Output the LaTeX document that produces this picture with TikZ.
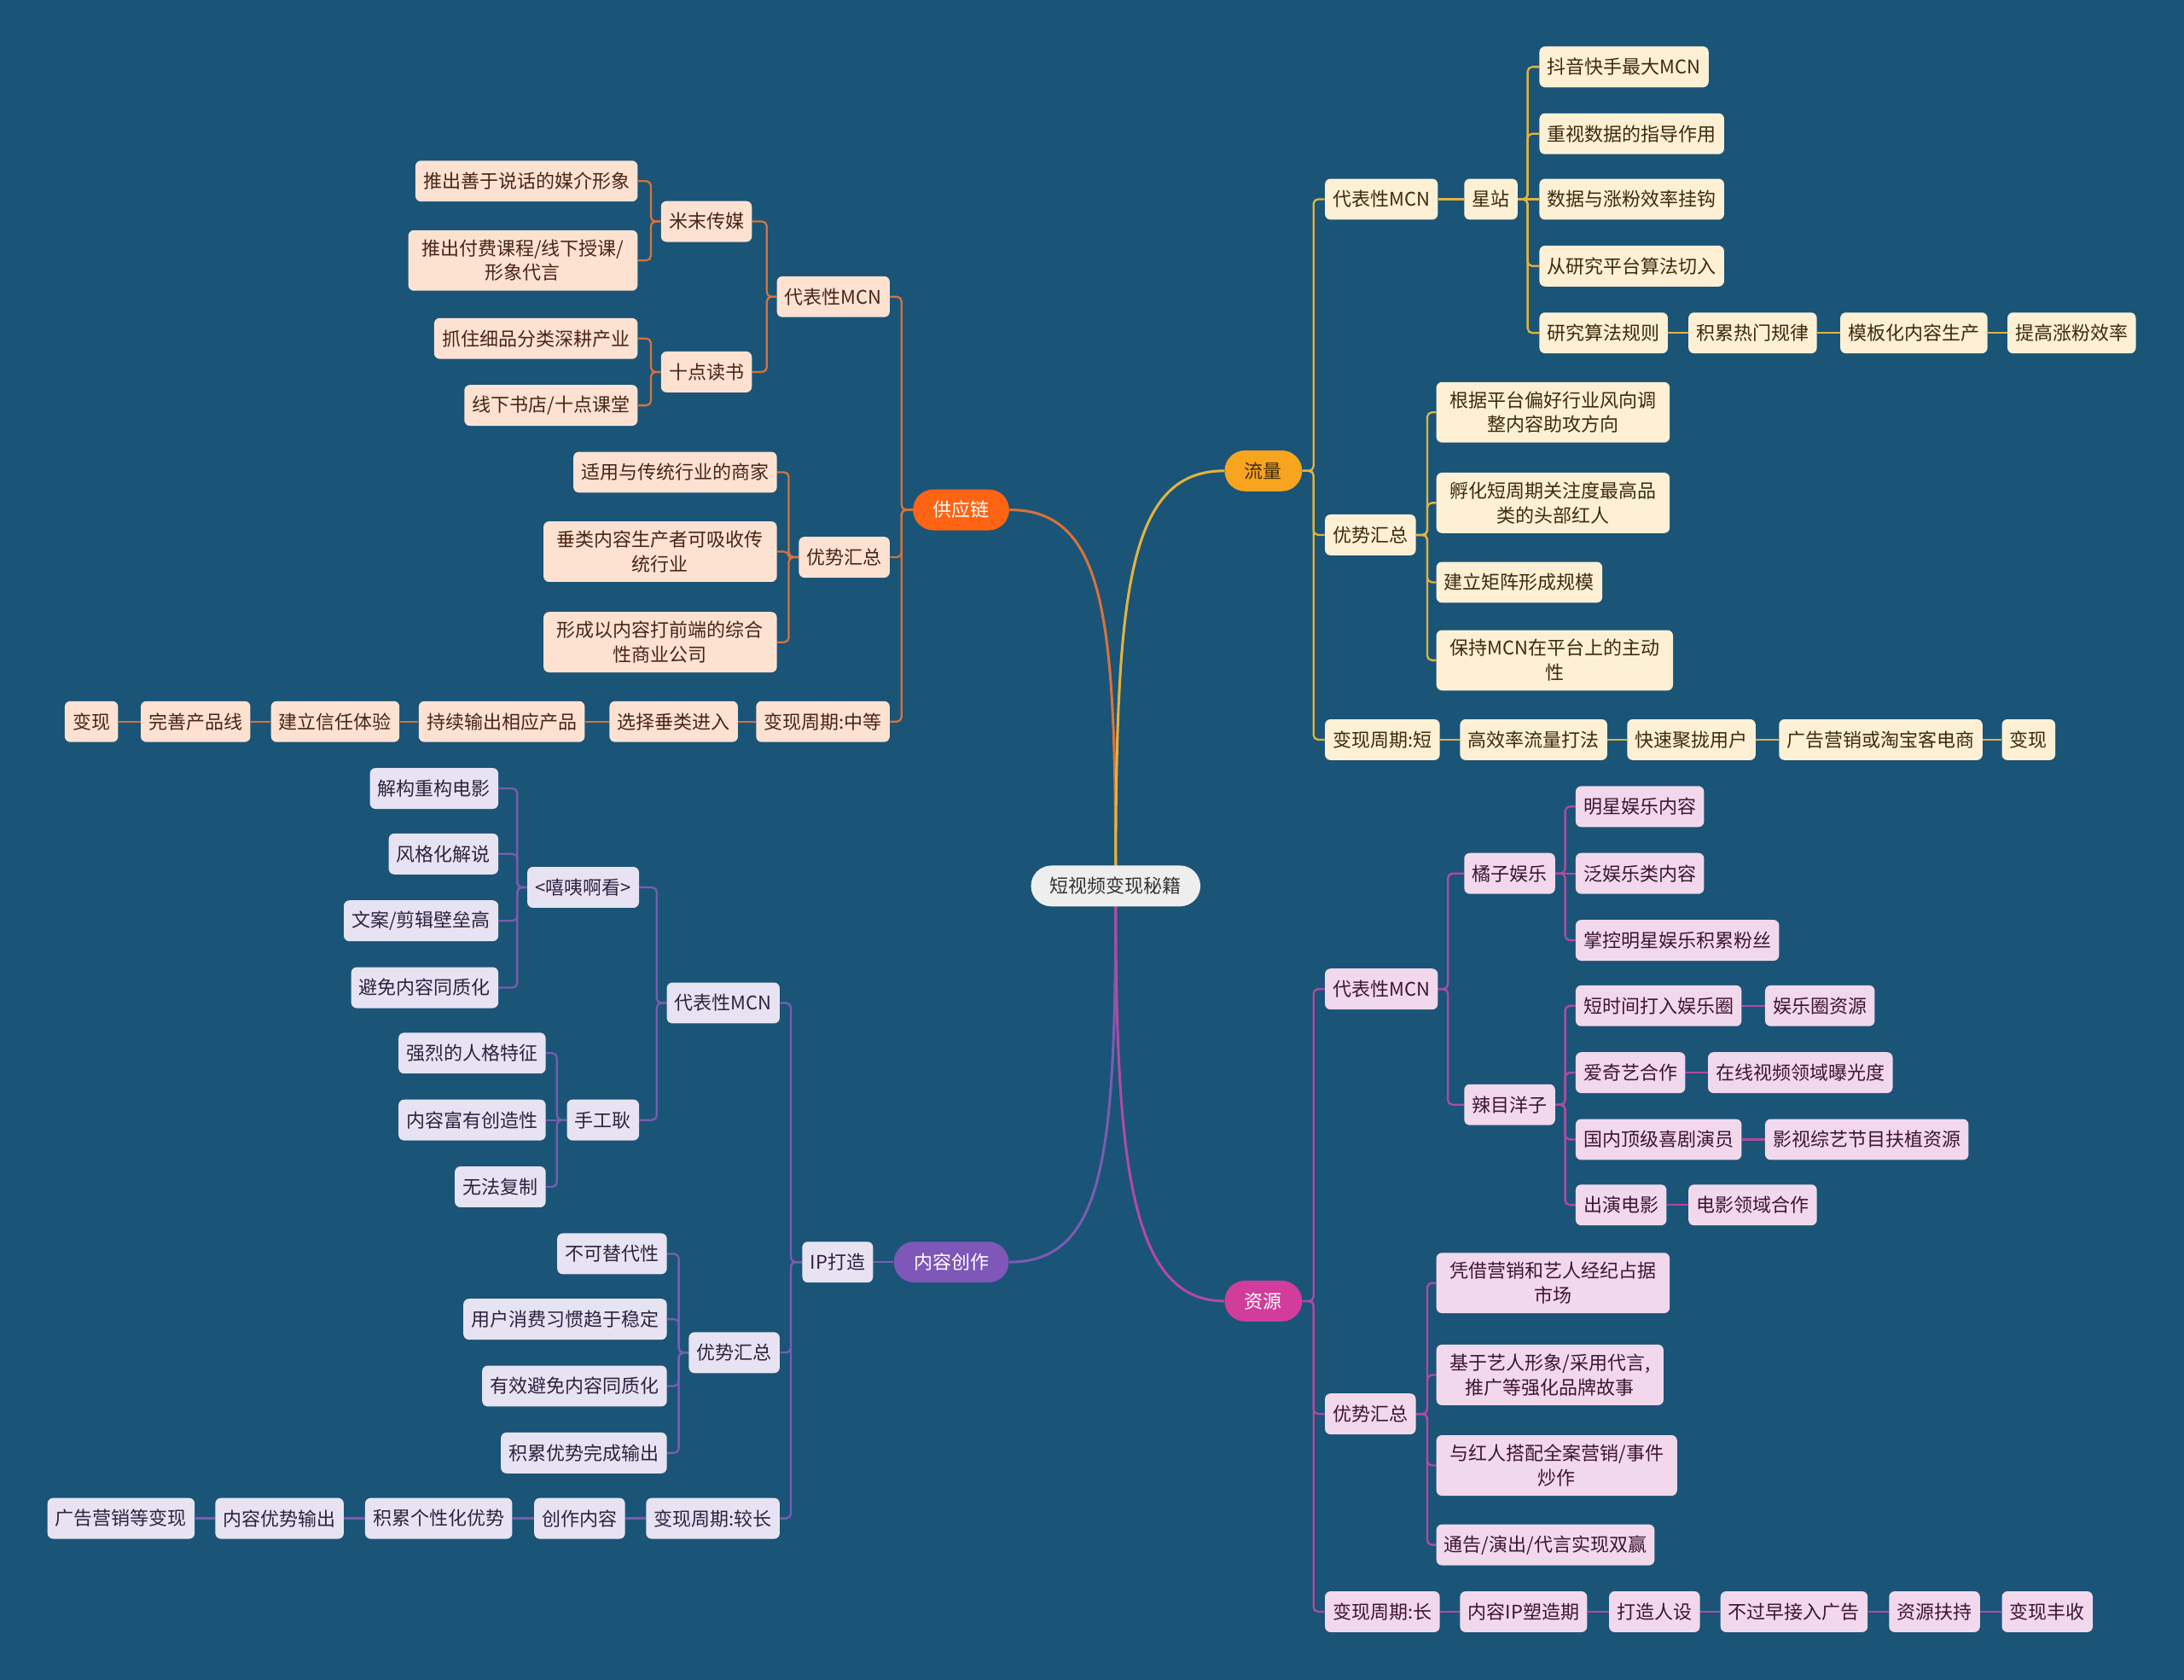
\documentclass[tikz,border=0pt]{standalone}
\usepackage{fontspec}
\newfontfamily\cjk{Noto Sans CJK SC}
\usetikzlibrary{backgrounds}

\definecolor{bg}{HTML}{1A5477}
\definecolor{rootfill}{HTML}{EEEEEE}
\definecolor{gmain}{HTML}{FF6414}
\definecolor{gline}{HTML}{D8723A}
\definecolor{gfill}{HTML}{FDE2D2}
\definecolor{gtext}{HTML}{4B2412}
\definecolor{fmain}{HTML}{F9A41E}
\definecolor{fline}{HTML}{E2B33F}
\definecolor{ffill}{HTML}{FDF0D5}
\definecolor{ftext}{HTML}{3D2B0A}
\definecolor{cmain}{HTML}{7E57B8}
\definecolor{cline}{HTML}{7B5CB0}
\definecolor{cfill}{HTML}{E7E3F2}
\definecolor{ctext}{HTML}{2B2440}
\definecolor{zmain}{HTML}{D23C9B}
\definecolor{zline}{HTML}{B24AA1}
\definecolor{zfill}{HTML}{F2D8EC}
\definecolor{ztext}{HTML}{3E1533}

\tikzset{
  box/.style={rounded corners=0.12cm, inner xsep=0.17cm, inner ysep=0.2cm, minimum height=0.88cm, align=center, font=\cjk\fontsize{11.5}{15}\selectfont},
  wide/.style={inner xsep=0.29cm},
  pill/.style={box, rounded corners=0.44cm, inner xsep=0.43cm},
  gbox/.style={box, anchor=east, fill=gfill, text=gtext},
  fbox/.style={box, anchor=west, fill=ffill, text=ftext},
  cbox/.style={box, anchor=east, fill=cfill, text=ctext},
  zbox/.style={box, anchor=west, fill=zfill, text=ztext},
  link/.style={line width=1.2pt, rounded corners=0.1cm},
  glink/.style={link, draw=gline},
  flink/.style={link, draw=fline},
  clink/.style={link, draw=cline},
  zlink/.style={link, draw=zline},
}

\begin{document}
\begin{tikzpicture}[x=0.03cm, y=-0.03cm]
                \node[pill, fill=rootfill, text=black!80, inner xsep=0.41cm] (root) at (801,636) {短视频变现秘籍};
                \node[pill, fill=gmain, text=white] (gyl) at (690,366) {供应链};
                \node[pill, fill=fmain, text=ftext] (ll) at (907,338) {流量};
                \node[pill, fill=cmain, text=white] (ncz) at (683,906) {内容创作};
                \node[pill, fill=zmain, text=white] (zy) at (907,934) {资源};

                % 流量
                \node[fbox] (llmcn) at (951,143) {代表性MCN};
                \node[fbox] (llys) at (951,384) {优势汇总};
                \node[fbox] (llzq) at (951,531) {变现周期:短};
                \node[fbox] (xz) at (1051,143) {星站};
                \node[fbox] (xz1) at (1105,48) {抖音快手最大MCN};
                \node[fbox] (xz2) at (1105,96) {重视数据的指导作用};
                \node[fbox] (xz3) at (1105,143) {数据与涨粉效率挂钩};
                \node[fbox] (xz4) at (1105,191) {从研究平台算法切入};
                \node[fbox] (xz5) at (1105,239) {研究算法规则};
                \node[fbox] (xz6) at (1212,239) {积累热门规律};
                \node[fbox] (xz7) at (1321,239) {模板化内容生产};
                \node[fbox] (xz8) at (1441,239) {提高涨粉效率};
                \node[fbox, wide] (ly1) at (1031,296) {根据平台偏好行业风向调\\整内容助攻方向};
                \node[fbox, wide] (ly2) at (1031,361) {孵化短周期关注度最高品\\类的头部红人};
                \node[fbox] (ly3) at (1031,418) {建立矩阵形成规模};
                \node[fbox, wide] (ly4) at (1031,474) {保持MCN在平台上的主动\\性};
                \node[fbox] (lz1) at (1048,531) {高效率流量打法};
                \node[fbox] (lz2) at (1168,531) {快速聚拢用户};
                \node[fbox] (lz3) at (1277,531) {广告营销或淘宝客电商};
                \node[fbox] (lz4) at (1437,531) {变现};

                % 资源
                \node[zbox] (zymcn) at (951,710) {代表性MCN};
                \node[zbox] (zyys) at (951,1015) {优势汇总};
                \node[zbox] (zyzq) at (951,1157) {变现周期:长};
                \node[zbox] (jz) at (1051,627) {橘子娱乐};
                \node[zbox] (lm) at (1051,793) {辣目洋子};
                \node[zbox] (jz1) at (1131,579) {明星娱乐内容};
                \node[zbox] (jz2) at (1131,627) {泛娱乐类内容};
                \node[zbox] (jz3) at (1131,675) {掌控明星娱乐积累粉丝};
                \node[zbox] (lm1) at (1131,722) {短时间打入娱乐圈};
                \node[zbox] (lm1b) at (1267,722) {娱乐圈资源};
                \node[zbox] (lm2) at (1131,770) {爱奇艺合作};
                \node[zbox] (lm2b) at (1226,770) {在线视频领域曝光度};
                \node[zbox] (lm3) at (1131,818) {国内顶级喜剧演员};
                \node[zbox] (lm3b) at (1267,818) {影视综艺节目扶植资源};
                \node[zbox] (lm4) at (1131,865) {出演电影};
                \node[zbox] (lm4b) at (1212,865) {电影领域合作};
                \node[zbox, wide] (zy1) at (1031,921) {凭借营销和艺人经纪占据\\市场};
                \node[zbox, wide] (zy2) at (1031,987) {基于艺人形象/采用代言,\\推广等强化品牌故事};
                \node[zbox, wide] (zy3) at (1031,1052) {与红人搭配全案营销/事件\\炒作};
                \node[zbox] (zy4) at (1031,1109) {通告/演出/代言实现双赢};
                \node[zbox] (zz1) at (1048,1157) {内容IP塑造期};
                \node[zbox] (zz2) at (1155,1157) {打造人设};
                \node[zbox] (zz3) at (1235,1157) {不过早接入广告};
                \node[zbox] (zz4) at (1356,1157) {资源扶持};
                \node[zbox] (zz5) at (1437,1157) {变现丰收};

                % 供应链
                \node[gbox] (gmcn) at (639,213) {代表性MCN};
                \node[gbox] (gys) at (639,400) {优势汇总};
                \node[gbox] (gzq) at (639,518) {变现周期:中等};
                \node[gbox] (mm) at (540,159) {米末传媒};
                \node[gbox] (sd) at (540,267) {十点读书};
                \node[gbox] (mm1) at (458,130) {推出善于说话的媒介形象};
                \node[gbox, wide] (mm2) at (458,187) {推出付费课程/线下授课/\\形象代言};
                \node[gbox] (sd1) at (458,243) {抓住细品分类深耕产业};
                \node[gbox] (sd2) at (458,291) {线下书店/十点课堂};
                \node[gbox] (gy1) at (558,339) {适用与传统行业的商家};
                \node[gbox, wide] (gy2) at (558,396) {垂类内容生产者可吸收传\\统行业};
                \node[gbox, wide] (gy3) at (558,461) {形成以内容打前端的综合\\性商业公司};
                \node[gbox] (gz1) at (530,518) {选择垂类进入};
                \node[gbox] (gz2) at (420,518) {持续输出相应产品};
                \node[gbox] (gz3) at (287,518) {建立信任体验};
                \node[gbox] (gz4) at (180,518) {完善产品线};
                \node[gbox] (gz5) at (85,518) {变现};

                % 内容创作
                \node[cbox] (ip) at (627,906) {IP打造};
                \node[cbox] (nmcn) at (560,720) {代表性MCN};
                \node[cbox] (nys) at (560,971) {优势汇总};
                \node[cbox] (nzq) at (560,1090) {变现周期:较长};
                \node[cbox] (xy) at (459,637) {<嘻咦啊看>};
                \node[cbox] (sgg) at (459,804) {手工耿};
                \node[cbox] (xy1) at (358,566) {解构重构电影};
                \node[cbox] (xy2) at (358,613) {风格化解说};
                \node[cbox] (xy3) at (358,661) {文案/剪辑壁垒高};
                \node[cbox] (xy4) at (358,709) {避免内容同质化};
                \node[cbox] (sg1) at (392,756) {强烈的人格特征};
                \node[cbox] (sg2) at (392,804) {内容富有创造性};
                \node[cbox] (sg3) at (392,852) {无法复制};
                \node[cbox] (ny1) at (479,900) {不可替代性};
                \node[cbox] (ny2) at (479,947) {用户消费习惯趋于稳定};
                \node[cbox] (ny3) at (479,995) {有效避免内容同质化};
                \node[cbox] (ny4) at (479,1043) {积累优势完成输出};
                \node[cbox] (nz1) at (449,1090) {创作内容};
                \node[cbox] (nz2) at (368,1090) {积累个性化优势};
                \node[cbox] (nz3) at (247,1090) {内容优势输出};
                \node[cbox] (nz4) at (140,1090) {广告营销等变现};

                \begin{scope}[on background layer]
                \fill[bg] (0,0) rectangle (1568,1206);

                \draw[glink, line width=1.6pt] (root.center) .. controls +(0,-190) and +(70,0) .. (gyl.east);
                \draw[flink, line width=1.6pt] (root.center) .. controls +(0,-210) and +(-70,0) .. (ll.west);
                \draw[clink, line width=1.6pt] (root.center) .. controls +(0,190) and +(70,0) .. (ncz.east);
                \draw[zlink, line width=1.6pt] (root.center) .. controls +(0,190) and +(-70,0) .. (zy.west);

                % 流量
                \draw[flink] (ll.east) -- ++(8,0) |- (llmcn.west);
                \draw[flink] (ll.east) -- ++(8,0) |- (llys.west);
                \draw[flink] (ll.east) -- ++(8,0) |- (llzq.west);
                \draw[flink] (llmcn.east) -- (xz.west);
                \draw[flink] (xz.east) -- ++(7,0) |- (xz1.west);
                \draw[flink] (xz.east) -- ++(7,0) |- (xz2.west);
                \draw[flink] (xz.east) -- (xz3.west);
                \draw[flink] (xz.east) -- ++(7,0) |- (xz4.west);
                \draw[flink] (xz.east) -- ++(7,0) |- (xz5.west);
                \draw[flink] (xz5.east) -- (xz6.west);
                \draw[flink] (xz6.east) -- (xz7.west);
                \draw[flink] (xz7.east) -- (xz8.west);
                \draw[flink] (llys.east) -- ++(8,0) |- (ly1.west);
                \draw[flink] (llys.east) -- ++(8,0) |- (ly2.west);
                \draw[flink] (llys.east) -- ++(8,0) |- (ly3.west);
                \draw[flink] (llys.east) -- ++(8,0) |- (ly4.west);
                \draw[flink] (llzq.east) -- (lz1.west);
                \draw[flink] (lz1.east) -- (lz2.west);
                \draw[flink] (lz2.east) -- (lz3.west);
                \draw[flink] (lz3.east) -- (lz4.west);

                % 资源
                \draw[zlink] (zy.east) -- ++(8,0) |- (zymcn.west);
                \draw[zlink] (zy.east) -- ++(8,0) |- (zyys.west);
                \draw[zlink] (zy.east) -- ++(8,0) |- (zyzq.west);
                \draw[zlink] (zymcn.east) -- ++(7,0) |- (jz.west);
                \draw[zlink] (zymcn.east) -- ++(7,0) |- (lm.west);
                \draw[zlink] (jz.east) -- ++(7,0) |- (jz1.west);
                \draw[zlink] (jz.east) -- (jz2.west);
                \draw[zlink] (jz.east) -- ++(7,0) |- (jz3.west);
                \draw[zlink] (lm.east) -- ++(7,0) |- (lm1.west);
                \draw[zlink] (lm.east) -- ++(7,0) |- (lm2.west);
                \draw[zlink] (lm.east) -- ++(7,0) |- (lm3.west);
                \draw[zlink] (lm.east) -- ++(7,0) |- (lm4.west);
                \draw[zlink] (lm1.east) -- (lm1b.west);
                \draw[zlink] (lm2.east) -- (lm2b.west);
                \draw[zlink] (lm3.east) -- (lm3b.west);
                \draw[zlink] (lm4.east) -- (lm4b.west);
                \draw[zlink] (zyys.east) -- ++(8,0) |- (zy1.west);
                \draw[zlink] (zyys.east) -- ++(8,0) |- (zy2.west);
                \draw[zlink] (zyys.east) -- ++(8,0) |- (zy3.west);
                \draw[zlink] (zyys.east) -- ++(8,0) |- (zy4.west);
                \draw[zlink] (zyzq.east) -- (zz1.west);
                \draw[zlink] (zz1.east) -- (zz2.west);
                \draw[zlink] (zz2.east) -- (zz3.west);
                \draw[zlink] (zz3.east) -- (zz4.west);
                \draw[zlink] (zz4.east) -- (zz5.west);

                % 供应链
                \draw[glink] (gyl.west) -- ++(-8,0) |- (gmcn.east);
                \draw[glink] (gyl.west) -- ++(-8,0) |- (gys.east);
                \draw[glink] (gyl.west) -- ++(-8,0) |- (gzq.east);
                \draw[glink] (gmcn.west) -- ++(-7,0) |- (mm.east);
                \draw[glink] (gmcn.west) -- ++(-7,0) |- (sd.east);
                \draw[glink] (mm.west) -- ++(-7,0) |- (mm1.east);
                \draw[glink] (mm.west) -- ++(-7,0) |- (mm2.east);
                \draw[glink] (sd.west) -- ++(-7,0) |- (sd1.east);
                \draw[glink] (sd.west) -- ++(-7,0) |- (sd2.east);
                \draw[glink] (gys.west) -- ++(-7,0) |- (gy1.east);
                \draw[glink] (gys.west) -- ++(-7,0) |- (gy2.east);
                \draw[glink] (gys.west) -- ++(-7,0) |- (gy3.east);
                \draw[glink] (gzq.west) -- (gz1.east);
                \draw[glink] (gz1.west) -- (gz2.east);
                \draw[glink] (gz2.west) -- (gz3.east);
                \draw[glink] (gz3.west) -- (gz4.east);
                \draw[glink] (gz4.west) -- (gz5.east);

                % 内容创作
                \draw[clink] (ncz.west) -- (ip.east);
                \draw[clink] (ip.west) -- ++(-8,0) |- (nmcn.east);
                \draw[clink] (ip.west) -- ++(-8,0) |- (nys.east);
                \draw[clink] (ip.west) -- ++(-8,0) |- (nzq.east);
                \draw[clink] (nmcn.west) -- ++(-7,0) |- (xy.east);
                \draw[clink] (nmcn.west) -- ++(-7,0) |- (sgg.east);
                \draw[clink] (xy.west) -- ++(-7,0) |- (xy1.east);
                \draw[clink] (xy.west) -- ++(-7,0) |- (xy2.east);
                \draw[clink] (xy.west) -- ++(-7,0) |- (xy3.east);
                \draw[clink] (xy.west) -- ++(-7,0) |- (xy4.east);
                \draw[clink] (sgg.west) -- ++(-7,0) |- (sg1.east);
                \draw[clink] (sgg.west) -- (sg2.east);
                \draw[clink] (sgg.west) -- ++(-7,0) |- (sg3.east);
                \draw[clink] (nys.west) -- ++(-7,0) |- (ny1.east);
                \draw[clink] (nys.west) -- ++(-7,0) |- (ny2.east);
                \draw[clink] (nys.west) -- ++(-7,0) |- (ny3.east);
                \draw[clink] (nys.west) -- ++(-7,0) |- (ny4.east);
                \draw[clink] (nzq.west) -- (nz1.east);
                \draw[clink] (nz1.west) -- (nz2.east);
                \draw[clink] (nz2.west) -- (nz3.east);
                \draw[clink] (nz3.west) -- (nz4.east);
                \end{scope}
            \end{tikzpicture}
\end{document}
